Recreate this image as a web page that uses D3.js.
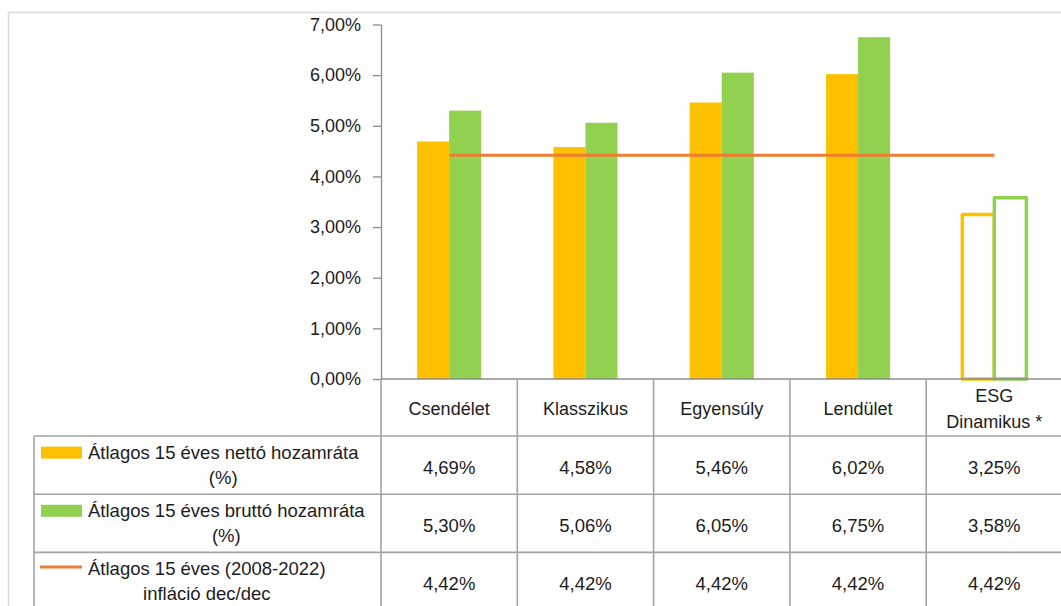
<!DOCTYPE html>
<html>
<head>
<meta charset="utf-8">
<script src="https://cdn.jsdelivr.net/npm/d3@7"></script>
<style>
  html, body { margin: 0; padding: 0; background: #fff; }
  svg { display: block; }
  text { font-family: "Liberation Sans", Arial, sans-serif; fill: #1c1c1c; }
</style>
</head>
<body>
<div id="chart"></div>
<script>
// ---------- data ----------
const categories = ["Csendélet", "Klasszikus", "Egyensúly", "Lendület", "ESG\nDinamikus *"];
const netReturn = [4.69, 4.58, 5.46, 6.02, 3.25];
const grossReturn = [5.30, 5.06, 6.05, 6.75, 3.58];
const inflation = [4.42, 4.42, 4.42, 4.42, 4.42];
const yTicks = [0, 1, 2, 3, 4, 5, 6, 7];
const seriesLabels = [
  ["Átlagos 15 éves nettó hozamráta", "(%)"],
  ["Átlagos 15 éves bruttó hozamráta", "(%)"],
  ["Átlagos 15 éves (2008-2022)", "infláció dec/dec"]
];
const partialCategories = ["ESG\nDinamikus *"];   // drawn as outline bars

// ---------- layout ----------
const W = 1061, H = 606;
const colors = { net: "#FFC000", gross: "#92D050", infl: "#ED7D31" };
const gridColor = "#a3a3a3";
const plotLeft = 381, plotRight = 1062.5;
const yTop = 24.5, yBase = 379;
const headerH = 57, rowH = 58.2;
const legendLeft = 34;

const huLocale = d3.formatLocale({ decimal: ",", thousands: " ", grouping: [3], currency: ["", " Ft"] });
const fmt = v => huLocale.format(".2f")(v) + "%";

const svg = d3.select("#chart").append("svg").attr("width", W).attr("height", H);

// outer chart border
svg.append("path")
  .attr("d", `M8.5,${H} V12.5 H${W}`)
  .attr("fill", "none").attr("stroke", "#d9d9d9").attr("stroke-width", 1.5);

const x = d3.scaleBand().domain(categories).range([plotLeft, plotRight]).padding(0);
const bw = x.bandwidth();
const barW = bw * 0.235;
const x1 = d3.scaleBand().domain(["net", "gross"]).range([bw / 2 - barW, bw / 2 + barW]).padding(0);
const y = d3.scaleLinear().domain([0, 7]).range([yBase, yTop]);

// y axis
const yAxis = d3.axisLeft(y).tickValues(yTicks).tickFormat(fmt).tickSize(8).tickSizeOuter(0).tickPadding(12);
const gy = svg.append("g").attr("transform", `translate(${plotLeft},0)`).call(yAxis);
gy.select(".domain").attr("stroke", "#8c8c8c").attr("stroke-width", 1.3);
gy.selectAll(".tick line").attr("stroke", "#8c8c8c").attr("stroke-width", 1.3);
gy.selectAll(".tick text").style("font-size", "18px").style("font-family", "'Liberation Sans', Arial, sans-serif").attr("fill", "#1c1c1c");

// bars
const rows = categories.map((c, i) => ({ c, net: netReturn[i], gross: grossReturn[i], partial: partialCategories.includes(c) }));
const g = svg.append("g");
rows.forEach(r => {
  ["net", "gross"].forEach(k => {
    const rect = g.append("rect")
      .attr("x", x(r.c) + x1(k))
      .attr("width", x1.bandwidth())
      .attr("y", y(r[k]))
      .attr("height", y(0) - y(r[k]));
    if (r.partial) {
      rect.attr("fill", "#fff").attr("stroke", colors[k]).attr("stroke-width", 3.5).attr("stroke-linejoin", "round");
    } else {
      rect.attr("fill", colors[k]);
    }
  });
});

// inflation line
const line = d3.line().x((d, i) => x(categories[i]) + bw / 2).y(d => y(d));
svg.append("path").datum(inflation).attr("d", line)
  .attr("fill", "none").attr("stroke", colors.infl).attr("stroke-width", 3);

// ---------- data table ----------
const tableTop = y(0);
const rowTops = [tableTop + headerH, tableTop + headerH + rowH, tableTop + headerH + 2 * rowH];
const tg = svg.append("g");
// horizontal lines
tg.append("line").attr("x1", plotLeft).attr("x2", W).attr("y1", tableTop).attr("y2", tableTop)
  .attr("stroke", "#8c8c8c").attr("stroke-width", 1.3);
rowTops.forEach(ty => {
  tg.append("line").attr("x1", legendLeft).attr("x2", W).attr("y1", ty).attr("y2", ty)
    .attr("stroke", gridColor).attr("stroke-width", 1.6);
});
// vertical lines
categories.forEach(c => {
  tg.append("line").attr("x1", x(c)).attr("x2", x(c)).attr("y1", tableTop).attr("y2", H)
    .attr("stroke", gridColor).attr("stroke-width", 1.6);
});
tg.append("line").attr("x1", legendLeft).attr("x2", legendLeft).attr("y1", rowTops[0]).attr("y2", H)
  .attr("stroke", gridColor).attr("stroke-width", 1.6);

// header labels
categories.forEach(c => {
  const lines = c.split("\n");
  const cy = tableTop + headerH / 2 + 1;
  const spacing = 26.5;
  lines.forEach((ln, j) => {
    tg.append("text")
      .attr("x", x(c) + bw / 2)
      .attr("y", cy + (j - (lines.length - 1) / 2) * spacing)
      .attr("dy", "0.35em")
      .attr("text-anchor", "middle")
      .style("font-size", "18px")
      .text(ln);
  });
});

// values
const seriesVals = [netReturn, grossReturn, inflation];
seriesVals.forEach((vals, si) => {
  const cy = rowTops[si] + rowH / 2 + 2;
  vals.forEach((v, i) => {
    tg.append("text")
      .attr("x", x(categories[i]) + bw / 2)
      .attr("y", cy)
      .attr("dy", "0.35em")
      .attr("text-anchor", "middle")
      .style("font-size", "18.5px")
      .text(fmt(v));
  });
});

// legend cells
const keyColors = [colors.net, colors.gross, colors.infl];
seriesLabels.forEach((lines, si) => {
  const cy = rowTops[si] + rowH / 2;
  const l1y = cy - 12.5, l2y = cy + 12.5;
  if (si < 2) {
    tg.append("rect").attr("x", 41).attr("y", l1y - 6).attr("width", 41).attr("height", 12).attr("fill", keyColors[si]);
  } else {
    tg.append("line").attr("x1", 40).attr("x2", 82).attr("y1", l1y - 2).attr("y2", l1y - 2)
      .attr("stroke", keyColors[si]).attr("stroke-width", 3);
  }
  const t1 = tg.append("text").attr("x", 88).attr("y", l1y).attr("dy", "0.35em")
    .style("font-size", "18.5px").text(lines[0]);
  const w1 = t1.node().getComputedTextLength();
  tg.append("text").attr("x", 88 + w1 / 2).attr("y", l2y).attr("dy", "0.35em")
    .attr("text-anchor", "middle").style("font-size", "18.5px").text(lines[1]);
});
</script>
</body>
</html>
